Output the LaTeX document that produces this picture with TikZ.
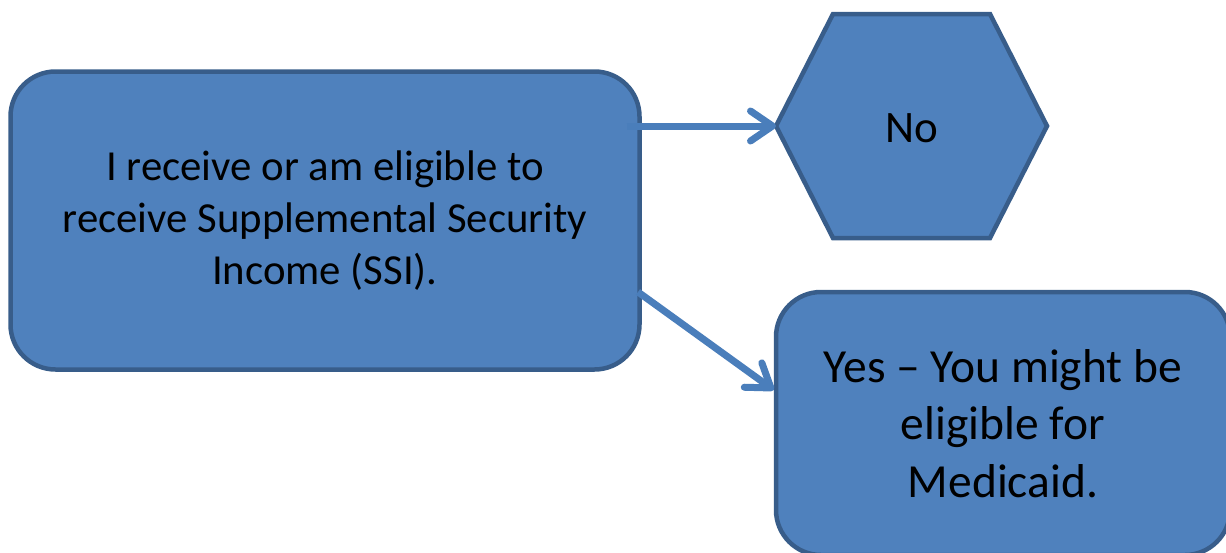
\documentclass[tikz,border=0pt]{standalone}
\usepackage{fontspec}
\setmainfont{Carlito}
\usetikzlibrary{arrows.meta,calc}
\definecolor{boxfill}{HTML}{4F81BD}
\definecolor{boxline}{HTML}{385D8A}
\definecolor{arrowcol}{HTML}{4A7EBB}
\begin{document}
\begin{tikzpicture}[x=1pt,y=-1pt,
  shapestyle/.style={draw=boxline, fill=boxfill, line width=4.5pt},
  box/.style={shapestyle, rounded corners=45pt, align=center, inner sep=0pt},
  conn/.style={draw=arrowcol, line width=7pt, -{Straight Barb[length=22pt,width=30pt,round]}}]
\useasboundingbox (0,0) rectangle (1226,552);
\clip (0,0) rectangle (1226,552);
\node[box, minimum width=629pt, minimum height=298pt, font=\fontsize{42.8}{52}\selectfont]
  (ssi) at (325,220.5) {I receive or am eligible to\\receive Supplemental Security\\Income (SSI).};
\node[box, minimum width=454pt, minimum height=263pt, font=\fontsize{47.5}{57.5}\selectfont]
  (yes) at (1003,423.5) {Yes – You might be\\eligible for\\Medicaid.};
\coordinate (noc) at (911.5,126);
\draw[shapestyle, line join=miter] ($(noc)+(-135.5,0)$) coordinate (nol) -- ++(57,-112) -- ++(157,0)
  -- ++(57,112) -- ++(-57,112) -- ++(-157,0) -- cycle;
\node[font=\fontsize{45}{54}\selectfont, inner sep=0pt] (no) at ($(noc)+(0,2)$) {No};
\coordinate (s1) at ($(ssi.east)+(-15,-94.5)$);
\coordinate (s2) at ($(ssi.east)+(-3.75,71.5)$);
\coordinate (e2) at ($(yes.west)+(0,-33.5)$);
\draw[conn] (s1) -- (nol);
\draw[conn] (s2) -- (e2);
\end{tikzpicture}
\end{document}
